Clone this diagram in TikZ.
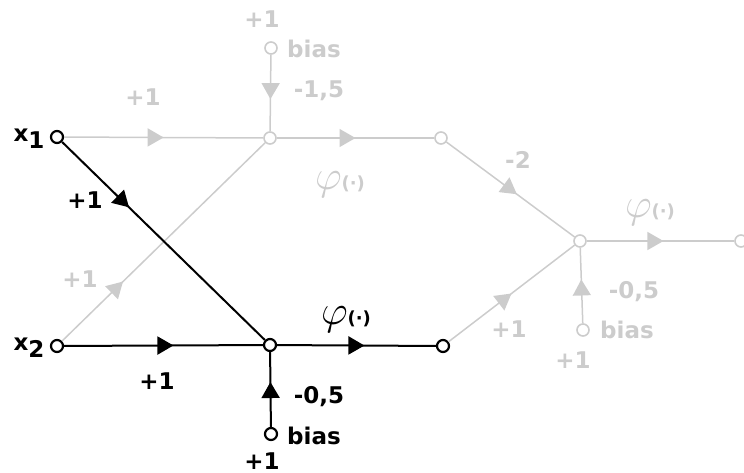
\documentclass[tikz,border=0pt]{standalone}
\usepackage{fontspec}
\setmainfont{DejaVu Sans}
\usetikzlibrary{arrows.meta,decorations.markings}
\definecolor{lightw}{HTML}{CCCCCC}

\begin{document}
\begin{tikzpicture}[x=0.5pt, y=-0.5pt,
  neuron/.style={circle, draw, line width=1.1pt, fill=white, inner sep=0pt, minimum size=6pt},
  off/.style={draw=lightw, line width=0.8pt},
  lbl/.style={font=\fontsize{11.5}{13}\selectfont\bfseries, inner sep=0pt},
  phi/.style={inner sep=0pt},
  syn/.style={line width=1pt, postaction={decorate},
    decoration={markings, mark=at position #1 with {\arrow{Triangle[length=8pt, width=9pt]}}}},
  syn/.default=0.5,
  dim/.style={lightw, line width=0.75pt}]
\useasboundingbox (0,0) rectangle (744,472);
% neurons
\node[neuron] (x1) at (57,137) {};
\node[neuron] (x2) at (57,346) {};
\node[neuron, off] (h1) at (270,138) {};
\node[neuron, off] (y1) at (441,138) {};
\node[neuron] (h2) at (270,345) {};
\node[neuron] (y2) at (443,346) {};
\node[neuron, off] (o) at (580,241) {};
\node[neuron, off] (out) at (741,241) {};
\node[neuron, off] (b1) at (271,48) {};
\node[neuron] (b2) at (271,434) {};
\node[neuron, off] (b3) at (583,330) {};
% grey synapses
\draw[syn=0.5, dim] (x1) -- (h1);
\draw[syn=0.3, dim] (x2) -- (h1);
\draw[syn=0.58, dim] (b1) -- (h1);
\draw[syn=0.5, dim] (h1) -- (y1);
\draw[syn=0.55, dim] (y1) -- (o);
\draw[syn=0.5, dim] (y2) -- (o);
\draw[syn=0.58, dim] (b3) -- (o);
\draw[syn=0.52, dim] (o) -- (out);
% black synapses
\draw[syn=0.33] (x1) -- (h2);
\draw[syn=0.55] (x2) -- (h2);
\draw[syn=0.6] (b2) -- (h2);
\draw[syn=0.55] (h2) -- (y2);
% labels
\node[lbl] (x1lbl) at (29,139) {x\raisebox{-0.55ex}{1}};
\node[lbl] (x2lbl) at (29,348) {x\raisebox{-0.55ex}{2}};
\node[lbl, text=lightw] (b1one) at (262,19) {+1};
\node[lbl, text=lightw] (b1txt) at (314,49) {bias};
\node[lbl, text=lightw] (w15) at (319,91) {-1,5};
\node[lbl, text=lightw] (w11) at (143,97) {+1};
\node[lbl] (w12) at (85,200) {+1};
\node[lbl, text=lightw] (w21) at (80,279) {+1};
\node[lbl] (w22) at (157,381) {+1};
\node[lbl] (w05) at (319,397) {-0,5};
\node[lbl] (b2txt) at (314,436) {bias};
\node[lbl] (b2one) at (262,461) {+1};
\node[lbl, text=lightw] (wm2) at (518,160) {-2};
\node[lbl, text=lightw] (wo2) at (509,329) {+1};
\node[lbl, text=lightw] (wo05) at (634,292) {-0,5};
\node[lbl, text=lightw] (b3txt) at (627,330) {bias};
\node[lbl, text=lightw] (b3one) at (573,360) {+1};
\node[phi, text=lightw] (phi1) at (340,185) {{\fontsize{20}{20}\selectfont$\varphi$}{\fontsize{9}{9}\selectfont\bfseries(·)}};
\node[phi] (phi2) at (346,320) {{\fontsize{20}{20}\selectfont$\varphi$}{\fontsize{9}{9}\selectfont\bfseries(·)}};
\node[phi, text=lightw] (phi3) at (650,213) {{\fontsize{20}{20}\selectfont$\varphi$}{\fontsize{9}{9}\selectfont\bfseries(·)}};
\end{tikzpicture}
\end{document}
